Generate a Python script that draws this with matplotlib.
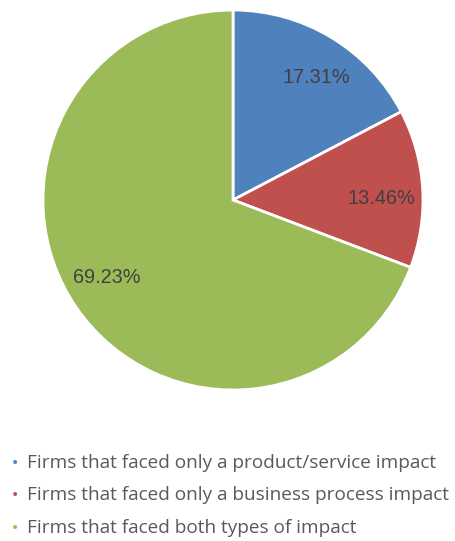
import numpy as np
import matplotlib.pyplot as plt

# share of firms by type of impact
labels = [
    "Firms that faced only a product/service impact",
    "Firms that faced only a business process impact",
    "Firms that faced both types of impact",
]
shares = [17.31, 13.46, 69.23]
colors = ["#4F81BD", "#C0504D", "#9BBB59"]

W, H = 456, 541
fig = plt.figure(figsize=(W / 100, H / 100), dpi=100)

# pie axes: centre at (233, 200) px, radius 190 px
cx, cy, r = 233, 200, 190
ax = fig.add_axes([(cx - r) / W, (H - cy - r) / H, 2 * r / W, 2 * r / H])

wedges, texts, autotexts = ax.pie(
    shares, colors=colors, startangle=90, counterclock=False,
    autopct=lambda p: f"{p:.2f}%", pctdistance=0.78, radius=1,
    wedgeprops=dict(edgecolor="white", linewidth=2),
    textprops=dict(fontsize=14.3, color="#404040", family="Liberation Sans"),
)

# nudge the percentage labels a little clockwise of each wedge's middle
for w, t in zip(wedges, autotexts):
    mid = np.deg2rad((w.theta1 + w.theta2) / 2 - 3)
    t.set_position((0.78 * np.cos(mid), 0.78 * np.sin(mid)))

ax.set_xlim(-1, 1)
ax.set_ylim(-1, 1)
ax.set_aspect("equal")
ax.axis("off")

# legend as bullet list below the pie
ys = [463, 495, 528]
for lab, col, y in zip(labels, colors, ys):
    fig.text(15 / W, 1 - y / H, "•", color=col, fontsize=10, va="center", ha="center")
    fig.text(27 / W, 1 - y / H, lab, color="#595959", fontsize=13.7,
             family="Open Sans", va="center", ha="left")

fig.savefig("out.png", dpi=100)
